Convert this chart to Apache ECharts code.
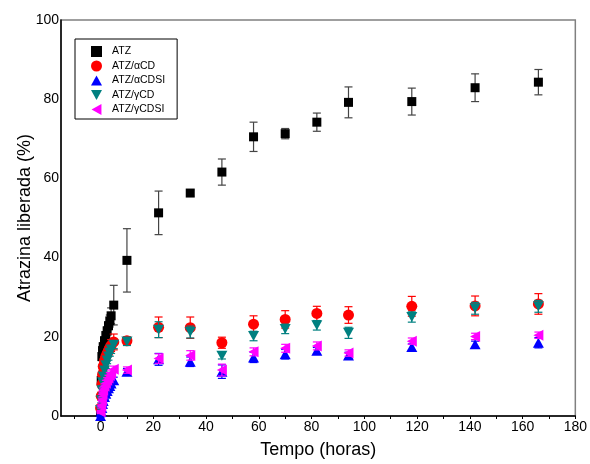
<!DOCTYPE html>
<html>
<head>
<meta charset="utf-8">
<script src="https://cdn.jsdelivr.net/npm/echarts@6/dist/echarts.min.js"></script>
<style>html,body{margin:0;padding:0;background:#fff}#c{width:590px;height:464px}</style>
</head>
<body>
<div id="c"></div>
<script>
// Time points (hours)
const timeEarly = [0, 0.25, 0.5, 0.75, 1, 1.5, 2, 2.5, 3, 3.5, 4, 5];
const timeLate = [10, 22, 34, 46, 58, 70, 82, 94, 118, 142, 166];

// Series names
const names = ['ATZ', 'ATZ/αCD', 'ATZ/αCDSI', 'ATZ/γCD', 'ATZ/γCDSI'];

// Released atrazine (%) - early and late values, with errors (±)
const atzEarly = [1, 9, 15, 16.5, 17.5, 19, 20.3, 21.5, 22.8, 24, 25.3, 28];
const atzLate = [39.3, 51.3, 56.3, 61.6, 70.5, 71.3, 74.2, 79.2, 79.4, 82.9, 84.3];
const atzErrEarly = [0.5, 1, 1, 1, 1, 1, 1, 1, 1, 1.5, 2, 5];
const atzErrLate = [8, 5.5, 0.8, 3.3, 3.7, 1.3, 2.3, 3.9, 3.4, 3.5, 3.2];

const aCDEarly = [2, 5, 8, 10.5, 12.5, 14, 15, 15.8, 16.5, 17.2, 17.8, 18.7];
const aCDLate = [19, 22.4, 22.3, 18.5, 23.2, 24.4, 25.9, 25.5, 27.7, 27.8, 28.3];
const aCDErrEarly = [0.5, 1, 1, 1, 1, 1, 1, 1, 1, 1, 1.5, 2];
const aCDErrLate = [1, 2.6, 2.7, 1.4, 2.1, 2.2, 1.8, 2.1, 2.5, 2.5, 2.6];

const aCDSIEarly = [0, 1, 2, 3, 3.8, 4.8, 5.6, 6.3, 7, 7.6, 8.2, 9];
const aCDSILate = [11.2, 14.3, 13.7, 11.2, 14.8, 15.6, 16.5, 15.3, 17.4, 18.1, 18.5];
const aCDSIErrEarly = [0.3, 0.5, 0.5, 0.5, 0.5, 0.6, 0.6, 0.6, 0.6, 0.7, 0.7, 0.8];
const aCDSIErrLate = [0.8, 1.5, 1.2, 1.7, 1.3, 1.2, 0.8, 0.8, 0.8, 0.8, 1.3];

const gCDEarly = [1.5, 4, 6.5, 8.5, 10, 11.5, 12.8, 14, 15, 16, 16.8, 18];
const gCDLate = [18.8, 21.8, 21.2, 15.2, 20.2, 22, 22.9, 21, 25, 27.2, 27.7];
const gCDErrEarly = [0.5, 0.7, 0.7, 0.8, 0.8, 0.8, 0.8, 0.8, 0.9, 0.9, 1, 1];
const gCDErrLate = [1, 2, 1.5, 0.8, 1.2, 1.2, 1.2, 1.4, 1.3, 1.5, 1.5];

const gCDSIEarly = [1, 2.5, 4, 5.5, 6.5, 7.5, 8.3, 9, 9.6, 10.2, 10.8, 11.8];
const gCDSILate = [11.6, 14.5, 15.3, 11.6, 16.2, 17.1, 17.7, 15.9, 18.9, 20.1, 20.4];
const gCDSIErrEarly = [0.4, 0.5, 0.5, 0.6, 0.6, 0.6, 0.7, 0.7, 0.7, 0.8, 0.8, 0.8];
const gCDSIErrLate = [0.8, 1.2, 1.2, 1.5, 1, 1, 1, 0.8, 0.8, 0.8, 0.8];

// Axis ticks
const xLabelValues = [0, 20, 40, 60, 80, 100, 120, 140, 160, 180];
const xTickValues = [-10, 0, 10, 20, 30, 40, 50, 60, 70, 80, 90, 100, 110, 120, 130, 140, 150, 160, 170, 180];

const FONT = '"Liberation Sans", Arial, Helvetica, sans-serif';

function points(early, late) {
  const t = timeEarly.concat(timeLate);
  const v = early.concat(late);
  return t.map((x, i) => [x, v[i]]);
}
function errs(early, late, errE, errL) {
  const t = timeEarly.concat(timeLate);
  const v = early.concat(late);
  const e = errE.concat(errL);
  return t.map((x, i) => [x, v[i] - e[i], v[i] + e[i]]);
}

const defs = [
  {name: names[0], data: points(atzEarly, atzLate), err: errs(atzEarly, atzLate, atzErrEarly, atzErrLate), color: '#000000', errColor: '#444444', symbol: 'rect', size: 9},
  {name: names[1], data: points(aCDEarly, aCDLate), err: errs(aCDEarly, aCDLate, aCDErrEarly, aCDErrLate), color: '#ff0000', errColor: '#ff0000', symbol: 'circle', size: 11},
  {name: names[2], data: points(aCDSIEarly, aCDSILate), err: errs(aCDSIEarly, aCDSILate, aCDSIErrEarly, aCDSIErrLate), color: '#0000ff', errColor: '#0000ff', symbol: 'path://M5,0 L10,9 L0,9 Z', size: [11, 10]},
  {name: names[3], data: points(gCDEarly, gCDLate), err: errs(gCDEarly, gCDLate, gCDErrEarly, gCDErrLate), color: '#008080', errColor: '#008080', symbol: 'path://M0,0 L10,0 L5,9 Z', size: [11, 10]},
  {name: names[4], data: points(gCDSIEarly, gCDSILate), err: errs(gCDSIEarly, gCDSILate, gCDSIErrEarly, gCDSIErrLate), color: '#ff00ff', errColor: '#ff00ff', symbol: 'path://M9,0 L9,10 L0,5 Z', size: [10, 11]}
];

const series = [];
defs.forEach((d, k) => {
  series.push({
    type: 'custom',
    name: d.name + '_err',
    data: d.err,
    z: 2 + k * 2,
    silent: true,
    encode: {x: 0, y: [1, 2]},
    renderItem: function (params, api) {
      const x = api.value(0);
      const lo = api.coord([x, api.value(1)]);
      const hi = api.coord([x, api.value(2)]);
      const cap = 4;
      const style = {stroke: d.errColor, lineWidth: 1.2, fill: null};
      return {
        type: 'group',
        children: [
          {type: 'line', shape: {x1: lo[0], y1: lo[1], x2: hi[0], y2: hi[1]}, style: style},
          {type: 'line', shape: {x1: hi[0] - cap, y1: hi[1], x2: hi[0] + cap, y2: hi[1]}, style: style},
          {type: 'line', shape: {x1: lo[0] - cap, y1: lo[1], x2: lo[0] + cap, y2: lo[1]}, style: style}
        ]
      };
    }
  });
  series.push({
    type: 'scatter',
    name: d.name,
    data: d.data,
    z: 3 + k * 2,
    symbol: d.symbol,
    symbolSize: d.size,
    itemStyle: {color: d.color, opacity: 1},
    emphasis: {disabled: true}
  });
});

const chart = echarts.init(document.getElementById('c'), null, {renderer: 'canvas'});
chart.setOption({
  animation: false,
  backgroundColor: '#ffffff',
  grid: {left: 61, right: 12, top: 20, bottom: 43, show: true, borderColor: '#808080', borderWidth: 1.5, backgroundColor: 'transparent'},
  legend: {
    data: names,
    orient: 'vertical',
    left: 75,
    top: 39,
    padding: [7, 12, 4, 16],
    itemWidth: 11,
    itemHeight: 11,
    itemGap: 3.5,
    borderColor: '#000000',
    borderWidth: 1,
    borderRadius: 0,
    backgroundColor: '#ffffff',
    textStyle: {fontFamily: FONT, fontSize: 10.5, color: '#000000', padding: [0, 0, 0, 5]},
    selectedMode: false
  },
  xAxis: {
    type: 'value',
    min: -15,
    max: 180,
    name: 'Tempo (horas)',
    nameLocation: 'middle',
    nameGap: 25,
    nameMoveOverlap: false,
    nameTextStyle: {fontFamily: FONT, fontSize: 18, color: '#000000'},
    axisLine: {show: true, onZero: false, lineStyle: {color: '#000000', width: 1.5}},
    axisTick: {show: true, customValues: xTickValues, length: 3, lineStyle: {color: '#000000'}},
    axisLabel: {customValues: xLabelValues, fontFamily: FONT, fontSize: 14, color: '#000000', margin: 4},
    splitLine: {show: false}
  },
  yAxis: {
    type: 'value',
    min: 0,
    max: 100,
    interval: 20,
    name: 'Atrazina liberada (%)',
    nameLocation: 'middle',
    nameGap: 27,
    nameMoveOverlap: false,
    nameTextStyle: {fontFamily: FONT, fontSize: 18, color: '#000000'},
    axisLine: {show: true, onZero: false, lineStyle: {color: '#000000', width: 1.5}},
    axisTick: {show: false},
    axisLabel: {fontFamily: FONT, fontSize: 14, color: '#000000', margin: 2},
    splitLine: {show: false}
  },
  series: series
});
</script>
</body>
</html>
